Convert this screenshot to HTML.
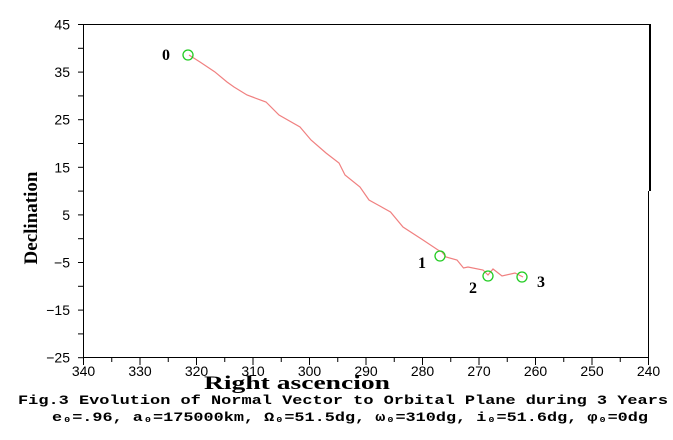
<!DOCTYPE html>
<html><head><style>
body{margin:0;background:#fff;width:673px;height:435px;overflow:hidden}
svg text{font-family:"Liberation Sans",sans-serif}
</style></head><body>
<svg width="673" height="435" viewBox="0 0 673 435" xmlns="http://www.w3.org/2000/svg">
<g stroke="#000" stroke-width="1" fill="none">
<line x1="83" y1="24.5" x2="650" y2="24.5"/>
<line x1="83.5" y1="24" x2="83.5" y2="358"/>
<line x1="83" y1="357.5" x2="649" y2="357.5"/>
<line x1="650" y1="24" x2="650" y2="191" stroke-width="2"/>
<line x1="648.5" y1="191" x2="648.5" y2="365"/>
</g>
<g stroke="#000" stroke-width="1" id="xt"></g>
<g stroke="#000" stroke-width="1" id="yt"></g>
<g font-size="14" fill="#000" text-anchor="middle" id="xl"></g>
<g font-size="14" fill="#000" text-anchor="end" id="yl"></g>
<polyline fill="none" stroke="#f08080" stroke-width="1.2" points="189,55 200,62 214.6,71.7 227,82 234,87 247,95 266,102 279,115 300,127 311,140 326,153 339,163 345,175 360,187 369,200 378,205 390.5,212 403,227 423,240 438,250 442,252 446,257 457,260 463.5,268 468,267 483,270 488,275 493,269 502,276 515,273 523,277"/>
<g fill="none" stroke="#22cc22" stroke-width="1.3">
<circle cx="188" cy="55" r="5"/>
<circle cx="440" cy="256" r="5"/>
<circle cx="488" cy="276" r="5"/>
<circle cx="522" cy="277" r="5"/>
</g>
<g font-weight="bold" font-size="16" fill="#000" style="font-family:'Liberation Serif',serif">
<text x="162" y="60" style="font-family:'Liberation Serif',serif">0</text>
<text x="418" y="268" style="font-family:'Liberation Serif',serif">1</text>
<text x="469" y="293" style="font-family:'Liberation Serif',serif">2</text>
<text x="537" y="287" style="font-family:'Liberation Serif',serif">3</text>
</g>
<text x="204" y="389" font-weight="bold" font-size="19" textLength="186" lengthAdjust="spacingAndGlyphs" style="font-family:'Liberation Serif',serif">Right ascencion</text>
<text transform="translate(37,218) rotate(-90)" font-weight="bold" font-size="19" text-anchor="middle" style="font-family:'Liberation Serif',serif">Declination</text>
<text x="343" y="404" font-weight="bold" font-size="13" text-anchor="middle" textLength="650" lengthAdjust="spacingAndGlyphs" style="font-family:'Liberation Mono',monospace">Fig.3 Evolution of Normal Vector to Orbital Plane during 3 Years</text>
<text x="350" y="421" font-weight="bold" font-size="13" text-anchor="middle" textLength="596" lengthAdjust="spacingAndGlyphs" style="font-family:'Liberation Mono',monospace">e₀=.96, a₀=175000km, Ω₀=51.5dg, ω₀=310dg, i₀=51.6dg, φ₀=0dg</text>
</svg>
<script>
var ns="http://www.w3.org/2000/svg";
function el(p,t,a,tx){var e=document.createElementNS(ns,t);for(var k in a)e.setAttribute(k,a[k]);if(tx)e.textContent=tx;document.getElementById(p).appendChild(e);}
for(var v=340;v>=240;v-=5){var x=83.5+(340-v)*5.65;el("xt","line",{x1:x,y1:357,x2:x,y2:v%10==0?365:362});if(v%10==0)el("xl","text",{x:x,y:376},String(v));}
for(var v=45;v>=-25;v-=5){var y=24.5+(45-v)*4.76;el("yt","line",{x1:78,y1:y,x2:83,y2:y});if((v-5)%10==0)el("yl","text",{x:70,y:y+5},v<0?"\u2212"+(-v):String(v));}
</script>
</body></html>
